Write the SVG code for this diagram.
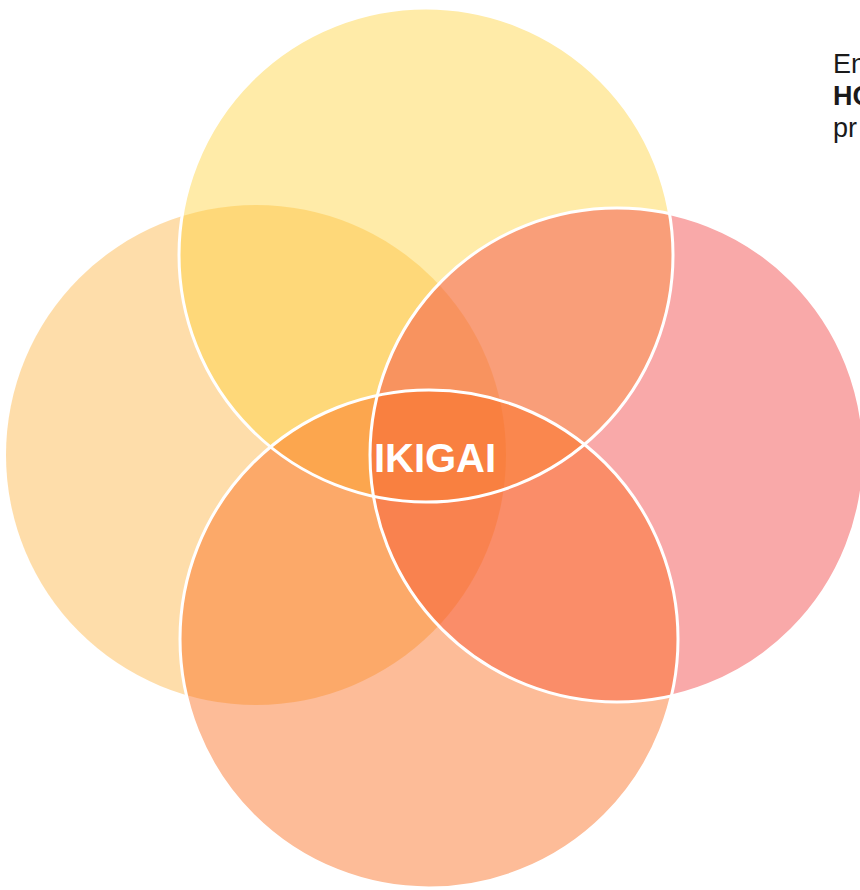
<svg xmlns="http://www.w3.org/2000/svg" width="860" height="890" viewBox="0 0 860 890">
<style>
.f{fill-opacity:0.45;stroke:none}
.s{fill:none;stroke:#FFFFFF;stroke-width:3}
.lbl{font-family:"Liberation Sans",Arial,sans-serif;font-size:27px;fill:#1a1a1a}
</style>
<rect width="860" height="890" fill="#FFFFFF"/>
<g id="circle-left"><circle class="f" cx="256" cy="455" r="250" fill="#FCB443"/></g>
<g id="circle-top"><circle class="f" cx="426" cy="255" r="247" fill="#FFD33E"/></g>
<g id="circle-right"><circle class="f" cx="617" cy="455" r="247" fill="#F24040"/></g>
<g id="circle-bottom"><circle class="f" cx="429" cy="639" r="249" fill="#FB6A1A"/></g>
<g id="outlines">
<circle class="s" cx="426" cy="255" r="247"/>
<circle class="s" cx="617" cy="455" r="247"/>
<circle class="s" cx="429" cy="639" r="249"/>
</g>
<g id="center"><text x="435" y="472" text-anchor="middle" font-family="'Liberation Sans',Arial,sans-serif" font-weight="bold" font-size="40" fill="#FFFFFF">IKIGAI</text></g>
<g id="side-text">
<text class="lbl" x="833" y="73">En</text>
<text class="lbl" x="833" y="105" font-weight="bold">HO</text>
<text class="lbl" x="833" y="137">pr</text>
</g>
</svg>
